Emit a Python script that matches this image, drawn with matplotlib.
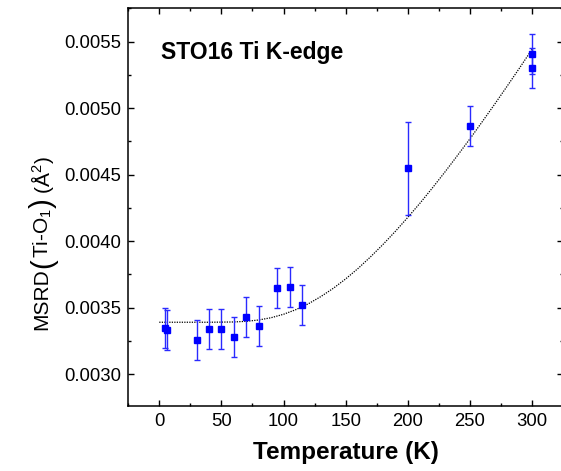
import matplotlib
matplotlib.use("Agg")
import matplotlib.pyplot as plt
from matplotlib.ticker import MultipleLocator

plt.rcParams["font.family"] = ["Liberation Sans", "DejaVu Sans"]
plt.rcParams["mathtext.fontset"] = "custom"
plt.rcParams["mathtext.rm"] = "Liberation Sans"
plt.rcParams["mathtext.it"] = "Liberation Sans:italic"
plt.rcParams["mathtext.bf"] = "Liberation Sans:bold"

# measured points
temperature = [5, 6, 30, 40, 50, 60, 70, 80, 95, 105, 115, 200, 250, 300, 300]
msrd = [0.003345, 0.003330, 0.003257, 0.003340, 0.003340, 0.003280, 0.003430,
        0.003363, 0.003646, 0.003653, 0.003518, 0.004547, 0.004864, 0.005405, 0.005300]
msrd_err = [0.00015, 0.00015, 0.00015, 0.00015, 0.00015, 0.00015, 0.00015,
            0.00015, 0.00015, 0.00015, 0.00015, 0.000347, 0.00015, 0.00015, 0.00015]

# fit curve
fit_T = [0, 20, 40, 60, 70, 80, 90, 100, 110, 120, 130, 140, 150, 160, 170, 180,
         190, 200, 210, 220, 230, 240, 250, 260, 270, 280, 290, 300]
fit_msrd = [0.003390, 0.003390, 0.003390, 0.003392, 0.003397, 0.003407, 0.003424,
            0.003450, 0.003485, 0.003529, 0.003583, 0.003645, 0.003716, 0.003795,
            0.003882, 0.003975, 0.004074, 0.004179, 0.004288, 0.004403, 0.004522,
            0.004645, 0.004770, 0.004900, 0.005032, 0.005167, 0.005304, 0.005444]

# y label pieces (text, fontsize) - parentheses drawn bigger
ylabel_parts = [("MSRD", 15), ("(", 21), ("Ti-O$_{1}$", 15), (")", 21), (" (Å$^{2}$)", 15)]

fig = plt.figure(figsize=(5.61, 4.71), dpi=100)
ax = fig.add_axes([0.2285, 0.138, 0.7754, 0.844])

ax.plot(fit_T, fit_msrd, color="black", lw=0.9, linestyle=(0, (1, 1)))
ax.errorbar(temperature, msrd, yerr=msrd_err, fmt="s", color="#0000ff",
            ecolor="#2a2aff", elinewidth=1.0, capsize=2.5, capthick=1.0,
            markersize=5, zorder=3)

ax.set_xlim(-25, 325)
ax.set_ylim(0.00276, 0.00575)
ax.xaxis.set_major_locator(MultipleLocator(50))
ax.xaxis.set_minor_locator(MultipleLocator(25))
ax.yaxis.set_major_locator(MultipleLocator(0.0005))
ax.yaxis.set_minor_locator(MultipleLocator(0.00025))
ax.yaxis.set_major_formatter(plt.FormatStrFormatter("%.4f"))

ax.tick_params(which="both", direction="in", top=True, right=True, width=1.0)
ax.tick_params(which="major", length=4.5, labelsize=13.3, pad=5)
ax.tick_params(which="minor", length=2.5)
for s in ax.spines.values():
    s.set_linewidth(1.1)

ax.set_xlabel("Temperature (K)", fontsize=17.5, fontweight="bold", labelpad=8)

ax.text(0.075, 0.89, "STO16 Ti K-edge", transform=ax.transAxes,
        fontsize=16.5, fontweight="bold", va="center", ha="left")

# stack the rotated y label pieces from the bottom up (figure pixels)
renderer = fig.canvas.get_renderer()
ypos = 471 - 330
for txt, fs in ylabel_parts:
    t = fig.text(40 / 561, ypos / 471, txt, fontsize=fs, rotation=90,
                 rotation_mode="anchor", ha="left", va="center_baseline")
    ypos += t.get_window_extent(renderer).height

fig.savefig("out.png", dpi=100)
